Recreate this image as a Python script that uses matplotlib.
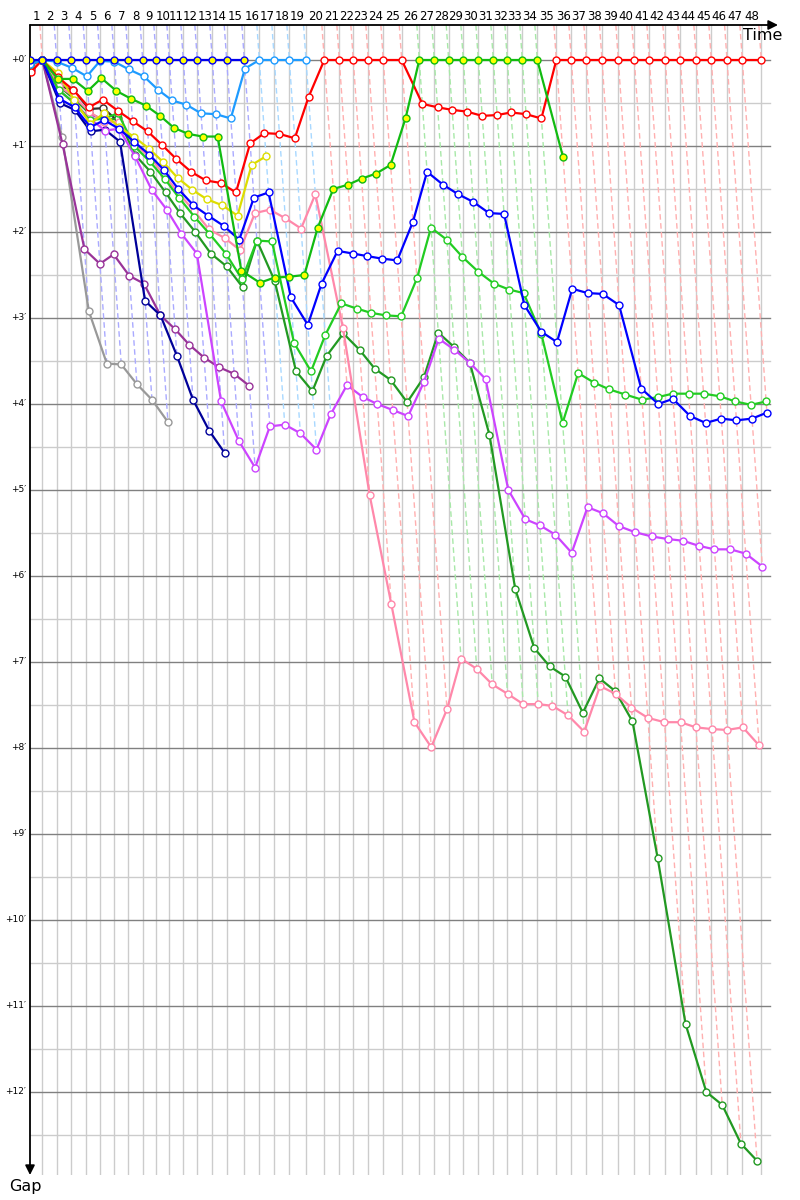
import numpy as np
import matplotlib
matplotlib.use('Agg')
import matplotlib.pyplot as plt

# leader's race time (minutes) at the end of each lap, lap 0..48
leader_time = [0.0, 2.05, 4.45, 6.88, 9.28, 11.67, 14.05, 16.38, 18.78, 21.05,
               23.22, 25.55, 27.88, 30.38, 32.78, 35.72, 38.22, 40.72, 43.22, 46.0,
               49.05, 51.55, 53.88, 56.38, 58.88, 61.95, 64.88, 67.38, 69.78, 72.22,
               74.72, 77.22, 79.55, 82.05, 84.55, 87.72, 90.22, 92.72, 95.33, 98.05,
               100.72, 103.22, 105.88, 108.38, 111.05, 113.55, 116.17, 118.72, 121.88]

# gap to the leader (minutes) for each car, from lap 0
gap_red = [0.14, 0, 0.2, 0.35, 0.55, 0.46, 0.59, 0.71, 0.83, 0.99, 1.15, 1.3, 1.4, 1.43, 1.54,
           0.97, 0.85, 0.86, 0.91, 0.43, 0, 0, 0, 0, 0, 0, 0.51, 0.55, 0.58, 0.6, 0.65, 0.64,
           0.61, 0.63, 0.68] + [0] * 14
gap_blue_lead = [0] * 16
gap_lightblue = [0.05, 0, 0.02, 0.09, 0.19, 0.01, 0.02, 0.11, 0.19, 0.35, 0.47, 0.52, 0.62,
                 0.63, 0.68, 0.1, 0, 0, 0, 0]
gap_green_lead = [0.05, 0, 0.22, 0.22, 0.36, 0.21, 0.36, 0.45, 0.53, 0.65, 0.79, 0.86, 0.89,
                  0.89, 2.45, 2.59, 2.53, 2.52, 2.5, 1.95, 1.5, 1.45, 1.38, 1.32, 1.22, 0.67] \
                 + [0] * 9 + [1.13]
gap_yellow = [0.05, 0, 0.15, 0.46, 0.74, 0.62, 0.78, 0.89, 1.03, 1.19, 1.37, 1.51, 1.62, 1.69,
              1.81, 1.22, 1.12]
gap_blue = [0.05, 0, 0.45, 0.55, 0.78, 0.7, 0.8, 0.95, 1.1, 1.28, 1.5, 1.69, 1.81, 1.93, 2.09,
            1.6, 1.54, 2.76, 3.08, 2.6, 2.22, 2.25, 2.28, 2.31, 2.33, 1.88, 1.3, 1.45, 1.56,
            1.65, 1.78, 1.79, 2.85, 3.16, 3.28, 2.66, 2.71, 2.72, 2.85, 3.82, 4.0, 3.94, 4.14,
            4.22, 4.17, 4.19, 4.17, 4.1]
gap_navy = [0.1, 0, 0.5, 0.58, 0.83, 0.81, 0.95, 2.8, 2.97, 3.44, 3.95, 4.31, 4.57]
gap_pink = [0.1, 0, 0.3, 0.42, 0.6, 0.72, 0.72, 0.98, 1.12, 1.34, 1.55, 1.75, 1.97, 2.07, 2.21,
            1.78, 1.74, 1.84, 1.96, 1.56, 3.12, 5.06, 6.32, 7.7, 7.99, 7.55, 6.96, 7.08, 7.26,
            7.37, 7.49, 7.49, 7.51, 7.62, 7.81, 7.28, 7.37, 7.53, 7.65, 7.7, 7.7, 7.76, 7.78,
            7.79, 7.76, 7.97]
gap_black = [0.1, 0, 0.3, 0.35, 0.57, 0.56, 0.72]
gap_grey = [0.05, 0, 0.89, 2.92, 3.53, 3.54, 3.77, 3.95, 4.21]
gap_purple = [0.05, 0, 0.98, 2.2, 2.37, 2.26, 2.51, 2.6, 2.97, 3.13, 3.31, 3.46, 3.57, 3.65, 3.79]
gap_magenta = [0.05, 0, 0.35, 0.5, 0.68, 0.82, 0.8, 1.12, 1.51, 1.74, 2.02, 2.25, 3.97, 4.43,
               4.74, 4.26, 4.24, 4.34, 4.53, 4.12, 3.78, 3.92, 4.0, 4.07, 4.14, 3.74, 3.24, 3.37,
               3.52, 3.71, 5.0, 5.34, 5.41, 5.52, 5.73, 5.2, 5.27, 5.42, 5.49, 5.54, 5.57, 5.59,
               5.65, 5.69, 5.69, 5.74, 5.89]
gap_forest = [0.05, 0, 0.3, 0.45, 0.62, 0.7, 0.68, 1.1, 1.3, 1.54, 1.78, 2.0, 2.25, 2.4, 2.64,
              2.1, 2.57, 3.62, 3.85, 3.44, 3.18, 3.37, 3.59, 3.72, 3.98, 3.69, 3.17, 3.34, 3.52,
              4.36, 6.15, 6.84, 7.05, 7.17, 7.59, 7.19, 7.34, 7.69, 9.28, 11.21, 12.0, 12.15,
              12.6, 12.8]
gap_lime = [0.05, 0, 0.35, 0.5, 0.7, 0.68, 0.62, 1.0, 1.18, 1.38, 1.6, 1.82, 2.02, 2.25, 2.55,
            2.1, 2.11, 3.29, 3.62, 3.2, 2.83, 2.89, 2.94, 2.97, 2.98, 2.54, 1.95, 2.09, 2.29,
            2.46, 2.6, 2.67, 2.71, 3.19, 4.22, 3.64, 3.75, 3.83, 3.89, 3.95, 3.92, 3.88, 3.88,
            3.88, 3.91, 3.97, 4.01, 3.97]

# (gaps, line colour, marker fill, lap-line colour when leading), drawn bottom to top
cars = [
    (gap_grey, '#999999', 'white', '#cccccc'),
    (gap_purple, '#993399', 'white', '#cc99cc'),
    (gap_black, '#333333', 'white', '#aaaaaa'),
    (gap_navy, '#000099', 'white', '#9999ff'),
    (gap_forest, '#229922', 'white', '#a8e0a8'),
    (gap_magenta, '#cc44ff', 'white', '#e6b3ff'),
    (gap_pink, '#ff88aa', 'white', '#ffc8d8'),
    (gap_lime, '#22cc22', 'white', '#a8e8a8'),
    (gap_yellow, '#dddd00', 'white', '#eeee99'),
    (gap_blue, '#0000ff', 'white', '#aaaaff'),
    (gap_red, '#ff0000', 'white', '#ffb0b0'),
    (gap_green_lead, '#11bb11', '#ffff00', '#a8e8a8'),
    (gap_lightblue, '#1e9bff', 'white', '#a8d8ff'),
    (gap_blue_lead, '#0000ee', '#ffff00', '#aaaaff'),
]
# who is checked first for the lead of a lap
lead_order = [10, 13, 12, 11]

W, H = 800, 1200
x0, x1, y0, y1 = 30, 778, 25, 1175    # axes box in pixels
zero_y, px_min_y, px_min_x = 60, 86.0, 6.0

fig = plt.figure(figsize=(W / 100, H / 100), dpi=100)
ax = fig.add_axes([x0 / W, 1 - y1 / H, (x1 - x0) / W, (y1 - y0) / H])
xmax = (x1 - x0) / px_min_x
gtop = (y0 - zero_y) / px_min_y
gbot = (y1 - zero_y) / px_min_y
ax.set_xlim(0, xmax)
ax.set_ylim(gbot, gtop)
ax.axis('off')

T = np.array(leader_time)
nlaps = len(T) - 1

# grid
for t in T[1:]:
    ax.plot([t, t], [gtop, gbot], color='#cccccc', lw=1, zorder=1)
hx = (770 - x0) / px_min_x
for g in np.arange(0, 13, 0.5):
    major = float(g).is_integer()
    ax.plot([0, hx], [g, g], color='#808080' if major else '#cccccc', lw=1, zorder=1.1 if major else 1)

# lap lines
for k in range(1, nlaps + 1):
    deepest = max(c[0][k] for c in cars if len(c[0]) > k)
    lead = next(i for i in lead_order if len(cars[i][0]) > k and cars[i][0][k] == 0)
    ax.plot([T[k] + gtop, T[k] + deepest], [gtop, deepest], color=cars[lead][3],
            lw=1, ls=(0, (4, 2.5)), zorder=2)

# cars
for n, (gaps, col, fill, _) in enumerate(cars):
    g = np.array(gaps)
    xs = T[:len(g)] + g
    ax.plot(xs, g, color=col, lw=1.6, marker='o', ms=5, mfc=fill, mec=col, mew=1,
            zorder=3 + n * 0.01)

# axes arrows
ax.annotate('', xy=(xmax, gtop), xytext=(0, gtop), annotation_clip=False,
            arrowprops=dict(arrowstyle='-|>', color='black', lw=1.3, mutation_scale=14,
                            shrinkA=0, shrinkB=0))
ax.annotate('', xy=(0, gbot), xytext=(0, gtop), annotation_clip=False,
            arrowprops=dict(arrowstyle='-|>', color='black', lw=1.3, mutation_scale=14,
                            shrinkA=0, shrinkB=0))

# labels
for k in range(1, nlaps + 1):
    xm = x0 + (T[k - 1] + T[k]) / 2 * px_min_x
    fig.text(xm / W, 1 - 16 / H, str(k), ha='center', va='center', fontsize=8.5)
for m in range(13):
    yp = zero_y + m * px_min_y
    fig.text(26 / W, 1 - yp / H, "+%d\u2032" % m, ha='right', va='center', fontsize=6.5)
fig.text(743 / W, 1 - 36 / H, 'Time', ha='left', va='center', fontsize=11.5)
fig.text(25 / W, 1 - 1186 / H, 'Gap', ha='center', va='center', fontsize=11.5)

fig.savefig('out.png', dpi=100)
